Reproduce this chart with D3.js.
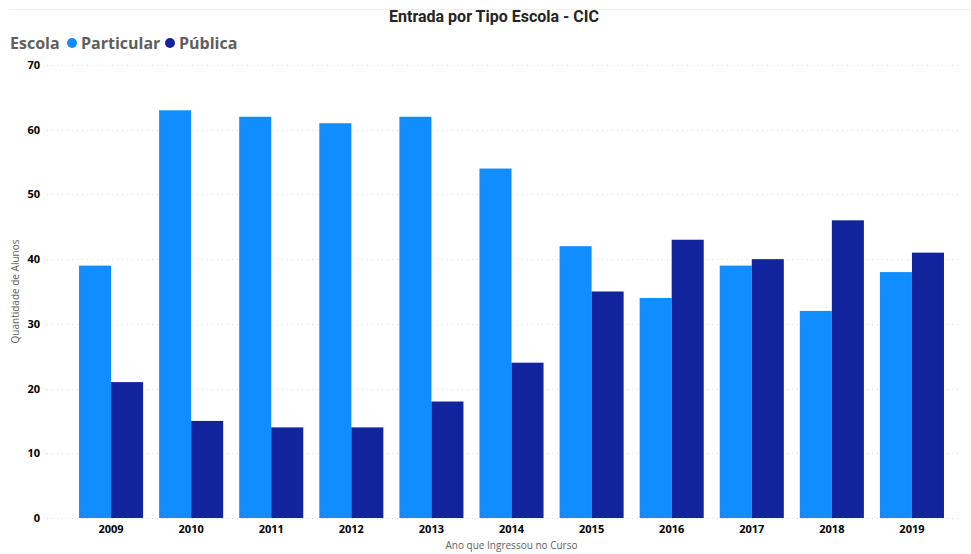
<!DOCTYPE html>
<html>
<head>
<meta charset="utf-8">
<script src="https://cdn.jsdelivr.net/npm/d3@7"></script>
<style>
  body { margin: 0; background: #fff; }
  svg { display: block; }
</style>
</head>
<body>
<div id="chart"></div>
<script>
// data
var years = ["2009", "2010", "2011", "2012", "2013", "2014", "2015", "2016", "2017", "2018", "2019"];
var particular = [39, 63, 62, 61, 62, 54, 42, 34, 39, 32, 38];
var publica = [21, 15, 14, 14, 18, 24, 35, 43, 40, 46, 41];
var seriesNames = ["Particular", "Pública"];
var colors = ["#118DFF", "#12239E"];
var yTicks = [0, 10, 20, 30, 40, 50, 60, 70];

var width = 971, height = 554;
var margin = {top: 65, right: 11, bottom: 36, left: 63};

var svg = d3.select("#chart").append("svg")
    .attr("width", width)
    .attr("height", height);

// faint top border
svg.append("line")
    .attr("x1", 10).attr("x2", width)
    .attr("y1", 9.5).attr("y2", 9.5)
    .style("stroke", "#f0f0f0");

// title
svg.append("text")
    .attr("x", 494).attr("y", 22)
    .attr("text-anchor", "middle")
    .style("font-family", "Roboto, 'DejaVu Sans', sans-serif")
    .style("font-weight", "bold")
    .style("font-size", "16px")
    .style("fill", "#252423")
    .text("Entrada por Tipo Escola - CIC");

// legend
var legend = svg.append("g").attr("transform", "translate(10,49)");
legend.append("text")
    .attr("x", 0).attr("y", 0)
    .style("font-family", "'Open Sans', sans-serif")
    .style("font-weight", "bold")
    .style("font-size", "16px")
    .style("fill", "#605E5C")
    .text("Escola");
var legendX = [62, 160];
seriesNames.forEach(function(name, i) {
    legend.append("circle")
        .attr("cx", legendX[i]).attr("cy", -6)
        .attr("r", 5)
        .style("fill", colors[i]);
    legend.append("text")
        .attr("x", legendX[i] + 9).attr("y", 0)
        .style("font-family", "'Open Sans', sans-serif")
        .style("font-weight", "bold")
        .style("font-size", "16px")
        .style("fill", "#605E5C")
        .text(name);
});

var x0 = d3.scaleBand()
    .domain(years)
    .range([margin.left, width - margin.right])
    .paddingInner(0.2)
    .paddingOuter(0.2);

var x1 = d3.scaleBand()
    .domain(seriesNames)
    .range([0, x0.bandwidth()]);

var y = d3.scaleLinear()
    .domain([0, 70])
    .range([height - margin.bottom, margin.top]);

// gridlines
svg.append("g")
    .selectAll("line")
    .data(yTicks)
    .enter().append("line")
    .attr("x1", 47).attr("x2", width - margin.right)
    .attr("y1", function(d) { return Math.round(y(d)) + 0.5; })
    .attr("y2", function(d) { return Math.round(y(d)) + 0.5; })
    .style("stroke", "#d9d9d9")
    .style("stroke-width", 1)
    .style("stroke-dasharray", "1,4");

// y axis
var yAxis = svg.append("g")
    .attr("transform", "translate(40,0)")
    .call(d3.axisLeft(y).tickValues(yTicks).tickSize(0).tickPadding(0));
yAxis.select(".domain").remove();
yAxis.selectAll("text")
    .style("font-family", "'Open Sans', sans-serif")
    .style("font-weight", "bold")
    .style("font-size", "11px")
    .style("fill", "#000");

// bars
var groups = svg.append("g")
    .selectAll("g")
    .data(years)
    .enter().append("g")
    .attr("transform", function(d) { return "translate(" + x0(d) + ",0)"; });

groups.selectAll("rect")
    .data(function(d, i) {
        return [{key: seriesNames[0], value: particular[i]}, {key: seriesNames[1], value: publica[i]}];
    })
    .enter().append("rect")
    .attr("x", function(d) { return x1(d.key); })
    .attr("y", function(d) { return y(d.value); })
    .attr("width", x1.bandwidth())
    .attr("height", function(d) { return y(0) - y(d.value); })
    .style("fill", function(d, i) { return colors[i]; });

// x axis
var xAxis = svg.append("g")
    .attr("transform", "translate(0," + (height - margin.bottom) + ")")
    .call(d3.axisBottom(x0).tickSize(0).tickPadding(7));
xAxis.select(".domain").remove();
xAxis.selectAll("text")
    .style("font-family", "'Open Sans', sans-serif")
    .style("font-weight", "bold")
    .style("font-size", "11px")
    .style("fill", "#000");

// axis titles
svg.append("text")
    .attr("x", (margin.left + width - margin.right) / 2)
    .attr("y", 549)
    .attr("text-anchor", "middle")
    .style("font-family", "'Open Sans', sans-serif")
    .style("font-size", "10px")
    .style("fill", "#605E5C")
    .text("Ano que Ingressou no Curso");

svg.append("text")
    .attr("transform", "translate(19," + (y(35)) + ") rotate(-90)")
    .attr("text-anchor", "middle")
    .style("font-family", "'Open Sans', sans-serif")
    .style("font-size", "10px")
    .style("fill", "#605E5C")
    .text("Quantidade de Alunos");
</script>
</body>
</html>
